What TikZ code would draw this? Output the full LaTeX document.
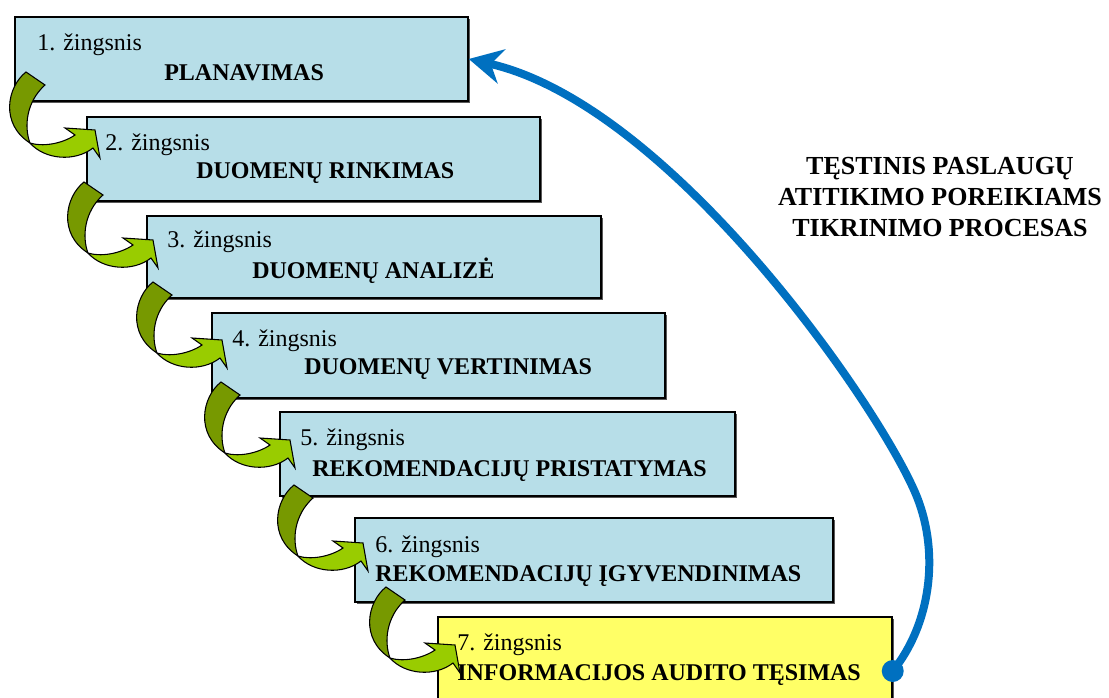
\documentclass[tikz,border=0pt]{standalone}
\usepackage{fontspec}
\setmainfont{Liberation Serif}
\usetikzlibrary{arrows.meta,fit,shadows}

\definecolor{stepblue}{HTML}{B7DEE8}
\definecolor{stepyellow}{HTML}{FFFF66}
\definecolor{curldark}{HTML}{779900}
\definecolor{curllight}{HTML}{99CC00}
\definecolor{loopblue}{HTML}{0070C0}

\tikzset{
  stepbox/.style={draw=black, line width=1.1pt, fill=stepblue, inner sep=0pt,
    drop shadow={shadow xshift=1.3pt, shadow yshift=-1.3pt, fill=black!65, opacity=1}},
  numtext/.style={anchor=base west, inner sep=0pt, font=\fontsize{18}{21}\selectfont},
  titletext/.style={anchor=base west, inner sep=0pt, font=\fontsize{18}{21}\selectfont\bfseries},
  sidetext/.style={align=center, inner sep=0pt, font=\fontsize{19.5}{23.25}\selectfont\bfseries},
  curlpart/.style={draw=black, line width=0.8pt},
  % curled green step arrow: dark back side, light front side with head
  curl/.pic={
    \filldraw[curlpart, fill=curldark]
      (16,0) .. controls (-3,15) and (-10,52) .. (20,71)
      .. controls (14,55) and (16,30) .. (35,13) -- cycle;
    \filldraw[curlpart, fill=curllight]
      (20,71) .. controls (35,88) and (65,90) .. (83,76) -- (90,86) -- (85,58)
      -- (55,56) -- (65,63) .. controls (52,72) and (32,75) .. (20,71) -- cycle;
  }
}

\begin{document}
\begin{tikzpicture}[x=0.75pt, y=-0.75pt]
  \clip (0,0) rectangle (1109,698);
  \fill[white] (0,0) rectangle (1109,698);

  % step boxes
  \node[stepbox, fit={(15,17) (468,101)}] (s1) {};
  \node[stepbox, fit={(87,117) (540,201)}] (s2) {};
  \node[stepbox, fit={(147,216) (601,298)}] (s3) {};
  \node[stepbox, fit={(212,313) (665,398)}] (s4) {};
  \node[stepbox, fit={(280,412) (735,496)}] (s5) {};
  \node[stepbox, fit={(355,518) (833,602)}] (s6) {};
  \node[stepbox, fill=stepyellow, fit={(438,617) (892,725)}] (s7) {};

  % step labels
  \node[numtext] (n1) at (37,51) {1. žingsnis};
  \node[titletext] (t1) at (164,81) {PLANAVIMAS};
  \node[numtext] (n2) at (105,151) {2. žingsnis};
  \node[titletext] (t2) at (196,179) {DUOMENŲ RINKIMAS};
  \node[numtext] (n3) at (167,248) {3. žingsnis};
  \node[titletext] (t3) at (252,279) {DUOMENŲ ANALIZĖ};
  \node[numtext] (n4) at (232,346) {4. žingsnis};
  \node[titletext] (t4) at (304,374) {DUOMENŲ VERTINIMAS};
  \node[numtext] (n5) at (300,445) {5. žingsnis};
  \node[titletext] (t5) at (312,476) {REKOMENDACIJŲ PRISTATYMAS};
  \node[numtext] (n6) at (375,552) {6. žingsnis};
  \node[titletext] (t6) at (375,581) {REKOMENDACIJŲ ĮGYVENDINIMAS};
  \node[numtext] (n7) at (457,650) {7. žingsnis};
  \node[titletext] (t7) at (457,680) {INFORMACIJOS AUDITO TĘSIMAS};

  % curled arrows leading from one step to the next
  \pic at (10,72) {curl};
  \pic at (68,182) {curl};
  \pic at (137,282) {curl};
  \pic at (205,382) {curl};
  \pic at (278,485) {curl};
  \pic at (370,587) {curl};

  % feedback loop
  \node[sidetext] (loop) at (940,197)
    {TĘSTINIS PASLAUGŲ\\ATITIKIMO POREIKIAMS\\TIKRINIMO PROCESAS};
  \fill[loopblue] (s7.east) circle [radius=8.25pt];
  \draw[loopblue, line width=6pt, -{Stealth[length=25pt, width=26pt, inset=8pt]}]
    (s7.east) .. controls (930,625) and (940,555) .. (917,497)
    .. controls (882,410) and (672,105) .. (s1.east);
\end{tikzpicture}
\end{document}
